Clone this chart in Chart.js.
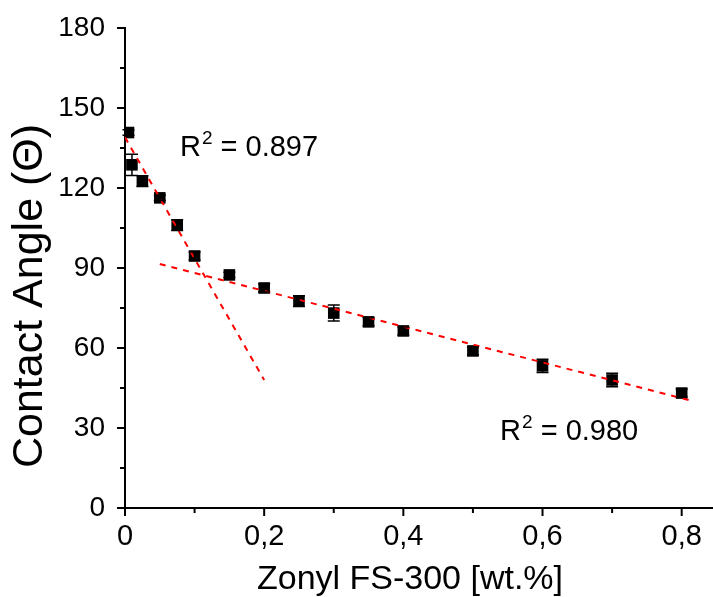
<!DOCTYPE html>
<html>
<head>
<meta charset="utf-8">
<script src="https://cdn.jsdelivr.net/npm/chart.js@4"></script>
<style>
  html, body { margin: 0; padding: 0; background: #fff; overflow: hidden; }
  #wrap { width: 713px; height: 597px; }
  canvas { display: block; }
</style>
</head>
<body>
<div id="wrap"><canvas id="grafico"></canvas></div>
<script>
// dados
const concentracao = [0.005, 0.01, 0.025, 0.05, 0.075, 0.1, 0.15, 0.2, 0.25, 0.3, 0.35, 0.4, 0.5, 0.6, 0.7, 0.8];
const angulo = [140.8, 128.7, 122.6, 116.3, 106.1, 94.5, 87.4, 82.5, 77.6, 73.1, 69.8, 66.4, 58.9, 53.3, 48.0, 43.1];
const erro = [1.0, 4.0, 2.0, 1.0, 2.0, 1.5, 1.0, 1.5, 2.0, 3.0, 1.5, 1.5, 1.5, 2.5, 2.5, 1.5];

// retas de ajuste (extremos)
const ajuste1X = [0.0, 0.2];
const ajuste1Y = [139, 48];
const ajuste2X = [0.05, 0.81];
const ajuste2Y = [91.5, 40.5];

const rotulosR2 = ["R² = 0.897", "R² = 0.980"];
const posR2X = [0.079, 0.539];
const posR2Y = [135, 28.5];

const xTicksMaiores = [0, 0.2, 0.4, 0.6, 0.8];
const yTicksMaiores = [0, 30, 60, 90, 120, 150, 180];

const tituloX = "Zonyl FS-300 [wt.%]";
const tituloY = "Contact Angle (Θ)";

const fonte = "'Liberation Sans', Arial, sans-serif";

function pontos(xs, ys) {
  return xs.map((x, i) => ({ x: x, y: ys[i] }));
}

// barras de erro + marcas de tick + textos R² + títulos dos eixos
const extras = {
  id: "extras",
  afterDatasetsDraw(chart) {
    const ctx = chart.ctx;
    const sx = chart.scales.x, sy = chart.scales.y;
    ctx.save();
    ctx.strokeStyle = "#000";
    ctx.lineWidth = 1.5;
    concentracao.forEach((c, i) => {
      const px = sx.getPixelForValue(c);
      const top = sy.getPixelForValue(angulo[i] + erro[i]);
      const bot = sy.getPixelForValue(angulo[i] - erro[i]);
      ctx.beginPath();
      ctx.moveTo(px, top); ctx.lineTo(px, bot);
      ctx.moveTo(px - 6, top); ctx.lineTo(px + 6, top);
      ctx.moveTo(px - 6, bot); ctx.lineTo(px + 6, bot);
      ctx.stroke();
    });

    // ticks
    ctx.lineWidth = 2;
    const area = chart.chartArea;
    sx.ticks.forEach(t => {
      const px = sx.getPixelForValue(t.value);
      const maior = xTicksMaiores.some(v => Math.abs(v - t.value) < 1e-6);
      ctx.beginPath();
      ctx.moveTo(px, area.bottom);
      ctx.lineTo(px, area.bottom + (maior ? 8 : 5));
      ctx.stroke();
    });
    sy.ticks.forEach(t => {
      const py = sy.getPixelForValue(t.value);
      const maior = yTicksMaiores.includes(t.value);
      ctx.beginPath();
      ctx.moveTo(area.left, py);
      ctx.lineTo(area.left - (maior ? 8 : 5), py);
      ctx.stroke();
    });

    // R²
    ctx.fillStyle = "#000";
    ctx.textBaseline = "middle";
    ctx.textAlign = "left";
    rotulosR2.forEach((txt, i) => {
      let px = sx.getPixelForValue(posR2X[i]);
      const py = sy.getPixelForValue(posR2Y[i]);
      ctx.font = "29px " + fonte;
      ctx.fillText("R", px, py);
      px += ctx.measureText("R").width + 1;
      ctx.font = "19px " + fonte;
      ctx.fillText("2", px, py - 9);
      px += ctx.measureText("2").width;
      ctx.font = "29px " + fonte;
      ctx.fillText(txt.slice(2), px, py);
    });

    // títulos (um pouco fora do centro, como no original)
    ctx.textAlign = "center";
    ctx.textBaseline = "alphabetic";
    ctx.font = "34px " + fonte;
    ctx.fillText(tituloX, 410, 589);
    ctx.translate(42, 296);
    ctx.rotate(-Math.PI / 2);
    ctx.font = "43px " + fonte;
    ctx.fillText(tituloY, 0, 0);
    ctx.restore();
  }
};

const ctx = document.getElementById("grafico").getContext("2d");
new Chart(ctx, {
  type: "scatter",
  data: {
    datasets: [
      {
        data: pontos(concentracao, angulo),
        pointStyle: "rect",
        pointRadius: 8.2,
        backgroundColor: "#000",
        borderColor: "#000",
        borderWidth: 0,
        order: 2
      },
      {
        type: "line",
        data: pontos(ajuste1X, ajuste1Y),
        borderColor: "#ff0000",
        borderWidth: 2,
        borderDash: [6, 6],
        pointRadius: 0,
        fill: false,
        order: 0
      },
      {
        type: "line",
        data: pontos(ajuste2X, ajuste2Y),
        borderColor: "#ff0000",
        borderWidth: 2,
        borderDash: [6, 6],
        pointRadius: 0,
        fill: false,
        order: 0
      }
    ]
  },
  options: {
    responsive: true,
    maintainAspectRatio: false,
    animation: false,
    layout: { autoPadding: false, padding: { top: 28, right: 0, left: 0, bottom: 0 } },
    plugins: { legend: { display: false }, tooltip: { enabled: false } },
    scales: {
      x: {
        type: "linear",
        min: 0,
        max: 0.845,
        border: { color: "#000", width: 2 },
        grid: { display: false, drawTicks: false },
        ticks: {
          stepSize: 0.1,
          includeBounds: false,
          autoSkip: false,
          maxRotation: 0,
          padding: 12,
          color: "#000",
          font: { family: fonte, size: 29 },
          callback: (v) => {
            const ok = xTicksMaiores.some(m => Math.abs(m - v) < 1e-6);
            if (!ok) return "";
            return v === 0 ? "0" : v.toFixed(1).replace(".", ",");
          }
        },
        afterFit: (s) => { s.height = 89; s.paddingLeft = 0; s.paddingRight = 0; }
      },
      y: {
        min: 0,
        max: 180,
        border: { color: "#000", width: 2 },
        grid: { display: false, drawTicks: false },
        ticks: {
          stepSize: 15,
          autoSkip: false,
          padding: 20,
          color: "#000",
          font: { family: fonte, size: 28 },
          callback: (v) => yTicksMaiores.includes(v) ? String(v) : ""
        },
        afterFit: (s) => { s.width = 125; s.paddingTop = 0; s.paddingBottom = 0; }
      }
    }
  },
  plugins: [extras]
});
</script>
</body>
</html>
